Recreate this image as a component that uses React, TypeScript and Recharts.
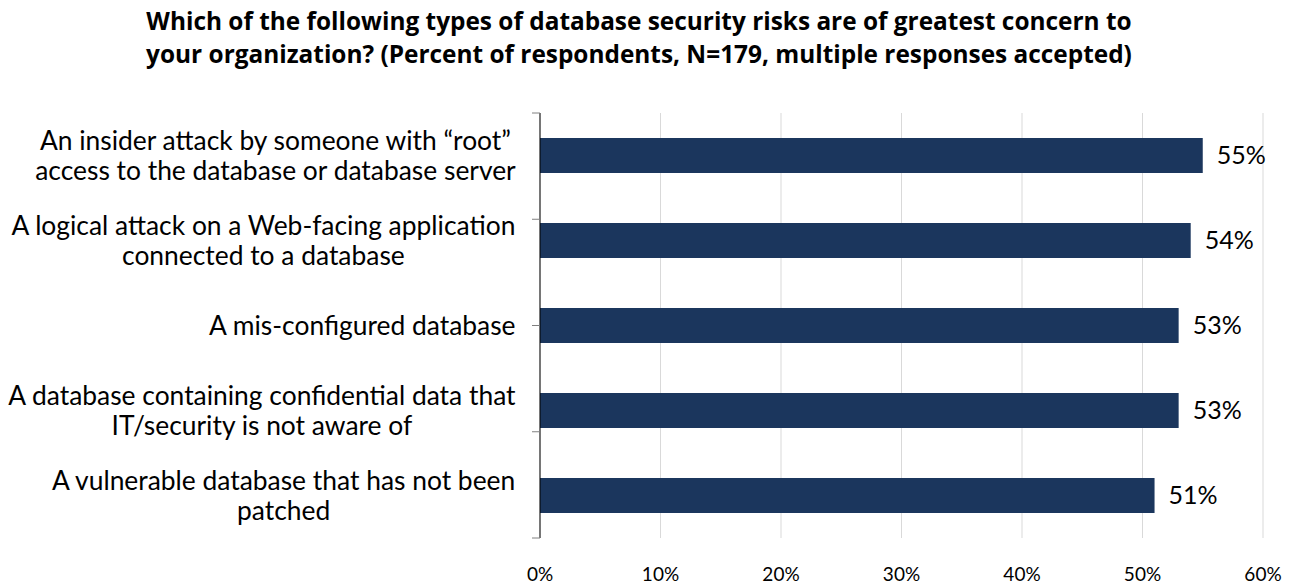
import React from 'react';
import {
  BarChart,
  Bar,
  XAxis,
  YAxis,
  CartesianGrid,
  LabelList
} from 'recharts';

const title = [
  'Which of the following types of database security risks are of greatest concern to',
  'your organization? (Percent of respondents, N=179, multiple responses accepted)',
];

const risks = [
  'An insider attack by someone with \u201croot\u201d\naccess to the database or database server',
  'A logical attack on a Web-facing application\nconnected to a database',
  'A mis-configured database',
  'A database containing confidential data that\nIT/security is not aware of',
  'A vulnerable database that has not been\npatched',
];

const shares = [55, 54, 53, 53, 51];

const percentTicks = [0, 10, 20, 30, 40, 50, 60];

// band edges for the little tick marks on the category axis
const bandEdges = [0, 1, 2, 3, 4, 5];

const FONT = 'Lato, "Open Sans", sans-serif';
const TITLE_FONT = '"Open Sans", Lato, sans-serif';
const LABEL_SIZE = 26.4;

let measureCtx: CanvasRenderingContext2D | null = null;
function textWidth(s: string) {
  if (!measureCtx) measureCtx = document.createElement('canvas').getContext('2d');
  if (!measureCtx) return s.length * LABEL_SIZE * 0.44;
  measureCtx.font = `${LABEL_SIZE}px ${FONT}`;
  return measureCtx.measureText(s).width;
}

// multi-line label: block sits right against the axis, lines centred within it
function RiskTick({ x, y, payload }: any) {
  const lines = String(payload.value).split('\n');
  const lineHeight = 30;
  const top = y - ((lines.length - 1) * lineHeight) / 2;
  const block = Math.max(...lines.map(textWidth));
  const cx = x - 16 - block / 2;
  return (
    <g>
      {lines.map((line, i) => (
        <text
          key={i}
          x={cx}
          y={top + i * lineHeight}
          dy="0.36em"
          textAnchor="middle"
          fontSize={LABEL_SIZE}
          fontFamily={FONT}
          fill="#000"
        >
          {line}
        </text>
      ))}
    </g>
  );
}

export default function App() {
  const data = risks.map((risk, i) => ({ risk, share: shares[i] }));

  return (
    <div style={{ position: 'absolute', left: 0, top: 0, width: 1289, height: 586, background: '#fff' }}>
      <div
        style={{
          position: 'absolute',
          left: 0,
          top: 4,
          width: 1278,
          textAlign: 'center',
          fontFamily: TITLE_FONT,
          fontWeight: 700,
          fontSize: 24.4,
          lineHeight: '33px',
          color: '#000',
        }}
      >
        {title.map((t) => (
          <div key={t}>{t}</div>
        ))}
      </div>
      <BarChart
        width={1289}
        height={586}
        data={data}
        layout="vertical"
        margin={{ top: 113, right: 26, bottom: 0, left: 0 }}
      >
        <CartesianGrid horizontal={false} stroke="#d9d9d9" />
        <XAxis
          type="number"
          domain={[0, 60]}
          ticks={percentTicks}
          tickFormatter={(v: number) => `${v}%`}
          axisLine={false}
          tickLine={false}
          tickSize={0}
          tickMargin={30}
          height={48}
          tick={{ fontSize: 19, fontFamily: FONT, fill: '#000' }}
        />
        <YAxis
          yAxisId="edges"
          type="number"
          domain={[0, 5]}
          ticks={bandEdges}
          width={8}
          tick={() => <g />}
          tickSize={8}
          axisLine={{ stroke: '#000', strokeWidth: 1 }}
          tickLine={{ stroke: '#808080', strokeWidth: 1 }}
        />
        <YAxis
          yAxisId="risks"
          type="category"
          dataKey="risk"
          width={532}
          axisLine={false}
          tickLine={false}
          tickSize={0}
          tickMargin={0}
          tick={<RiskTick />}
        />
        <Bar yAxisId="risks" dataKey="share" fill="#1b365d" barSize={35} isAnimationActive={false}>
          <LabelList
            dataKey="share"
            position="right"
            offset={14}
            formatter={(v: any) => `${v}%`}
            style={{ fontSize: 25, fontFamily: FONT, fill: '#000' }}
          />
        </Bar>
      </BarChart>
    </div>
  );
}
